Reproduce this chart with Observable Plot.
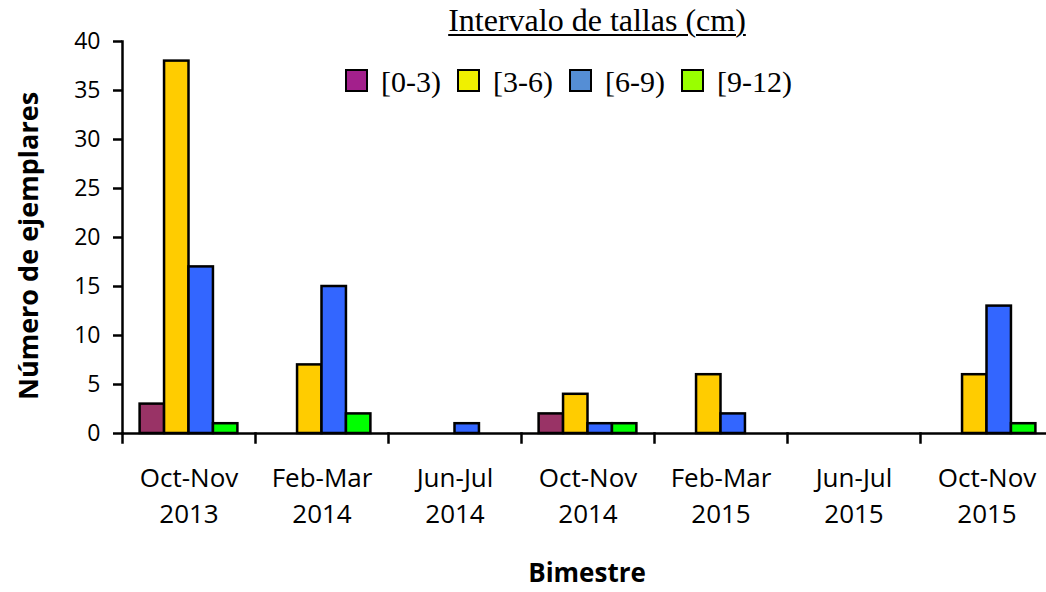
<!DOCTYPE html>
<html><head><meta charset="utf-8">
<script src="https://cdn.jsdelivr.net/npm/d3@7"></script>
<script src="https://cdn.jsdelivr.net/npm/@observablehq/plot@0.6"></script>
<style>
body{margin:0;background:#fff}
#wrap{position:relative;width:1046px;height:592px;overflow:hidden;font-family:"Open Sans",sans-serif;color:#000}
#chart svg{display:block}
#ltitle{position:absolute;left:597px;top:4px;transform:translateX(-50%);font-family:"Liberation Serif",serif;font-size:32px;line-height:32px;text-decoration:underline;text-decoration-thickness:2px;text-underline-offset:3px;white-space:nowrap}
#legend{position:absolute;left:345px;top:67px;display:flex;font-family:"Liberation Serif",serif;font-size:30px;line-height:30px;white-space:nowrap}
.item{display:flex;align-items:flex-start;margin-right:16px}
.sw{width:23px;height:23px;box-sizing:border-box;border:2px solid #000;margin-top:2px;margin-right:13px}
#ytitle{position:absolute;left:27px;top:246px;transform:translate(-50%,-50%) rotate(-90deg);font-weight:bold;font-size:27px;white-space:nowrap}
#xtitle{position:absolute;left:587px;top:559px;transform:translateX(-50%);font-weight:bold;font-size:26px;line-height:26px;white-space:nowrap}
</style></head><body>
<div id="wrap">
  <div id="chart"></div>
  <div id="ltitle">Intervalo de tallas (cm)</div>
  <div id="legend"></div>
  <div id="ytitle">Número de ejemplares</div>
  <div id="xtitle">Bimestre</div>
</div>
<script>
const categories = ["Oct-Nov 2013","Feb-Mar 2014","Jun-Jul 2014","Oct-Nov 2014","Feb-Mar 2015","Jun-Jul 2015","Oct-Nov 2015"];
const series = ["[0-3)","[3-6)","[6-9)","[9-12)"];
const s0_3  = [3, 0, 0, 2, 0, 0, 0];
const s3_6  = [38, 7, 0, 4, 6, 0, 6];
const s6_9  = [17, 15, 1, 1, 2, 0, 13];
const s9_12 = [1, 2, 0, 1, 0, 0, 1];
const yTicks = [0, 5, 10, 15, 20, 25, 30, 35, 40];
const barColors = ["#993366", "#FFCC00", "#3366FF", "#00FF00"];
const legendColors = ["#A3208C", "#F0F000", "#558ED5", "#99FF00"];

const values = [s0_3, s3_6, s6_9, s9_12];
const data = [];
categories.forEach((c, i) => series.forEach((s, j) => data.push({cat: c, series: s, value: values[j][i]})));

const chart = Plot.plot({
  width: 1046, height: 592,
  marginTop: 41, marginBottom: 159, marginLeft: 121, marginRight: -8,
  style: {fontFamily: "'Open Sans', sans-serif", fontSize: "23px", background: "white", color: "black"},
  fx: {domain: categories, range: [121, 1054], padding: 0},
  x: {domain: series, paddingInner: 0, paddingOuter: 0.72, round: false, axis: null},
  y: {domain: [0, 40]},
  color: {domain: series, range: barColors},
  marks: [
    Plot.barY(data, {filter: d => d.value > 0, fx: "cat", x: "series", y: "value", fill: "series", stroke: "black", strokeWidth: 2.5}),
    Plot.ruleY([0], {stroke: "black", strokeWidth: 2.5}),
    Plot.frame({anchor: "left", insetTop: 392, insetBottom: -9, stroke: "black", strokeWidth: 2.5}),
    Plot.frame({anchor: "left", facetAnchor: "left", stroke: "black", strokeWidth: 2.5}),
    Plot.axisY({ticks: yTicks, tickSize: 9, tickPadding: 13, strokeWidth: 2.5, label: null, tickFormat: () => ""}),
    Plot.text(yTicks, {y: d => d, text: d => String(d), frameAnchor: "left", textAnchor: "end", dx: -22, fontSize: 23, facetAnchor: "left"}),
    Plot.axisFx({anchor: "bottom", tickSize: 0, tickPadding: 28, fontSize: 26, lineHeight: 1.385, label: null, tickFormat: d => d.replace(" ", "\n")})
  ]
});
document.getElementById("chart").appendChild(chart);

const legend = document.getElementById("legend");
series.forEach((s, j) => {
  const item = document.createElement("div");
  item.className = "item";
  const sw = document.createElement("div");
  sw.className = "sw";
  sw.style.background = legendColors[j];
  const t = document.createElement("span");
  t.textContent = s;
  item.appendChild(sw);
  item.appendChild(t);
  legend.appendChild(item);
});
</script>
</body></html>
